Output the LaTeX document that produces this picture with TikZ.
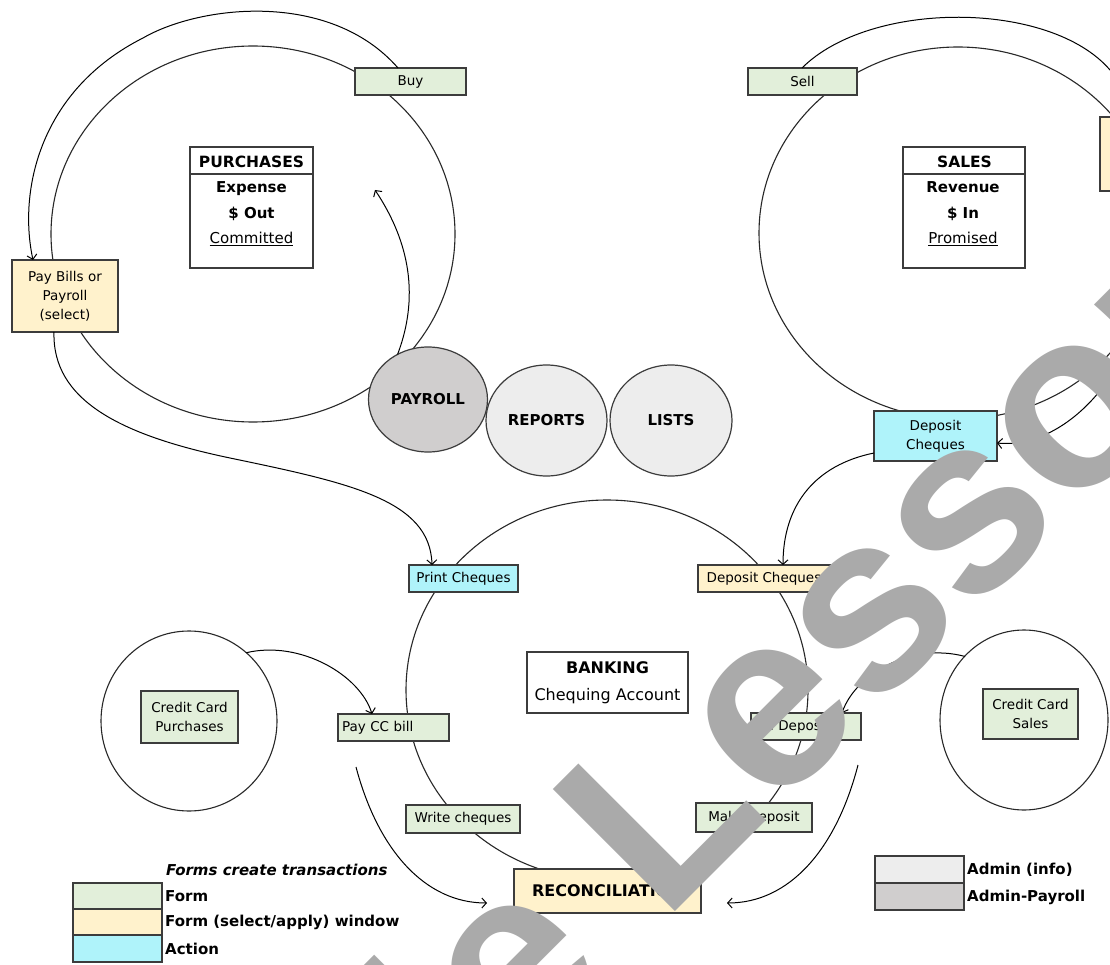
\documentclass[tikz,border=0pt]{standalone}
\usepackage{fontspec}
\setmainfont{DejaVu Sans}
\newfontfamily\wmfont{Liberation Sans}
\usetikzlibrary{shapes.geometric,arrows.meta}
\definecolor{formgreen}{RGB}{226,239,218}
\definecolor{selyellow}{RGB}{255,242,204}
\definecolor{actblue}{RGB}{175,243,250}
\definecolor{admlight}{RGB}{237,237,237}
\definecolor{admdark}{RGB}{208,206,206}
\definecolor{boxline}{RGB}{60,60,60}
\definecolor{cycline}{RGB}{40,40,40}
\definecolor{wmgrey}{RGB}{170,170,170}
\begin{document}
\begin{tikzpicture}[x=1pt,y=-1pt,
  wh/.style 2 args={minimum width=#1pt,minimum height=#2pt},
  cyc/.style={ellipse,draw=cycline,line width=1.1pt,inner sep=0pt,outer sep=0pt},
  box/.style={draw=boxline,line width=1.2pt,inner sep=0pt,outer sep=0pt,align=center,font={\fontsize{13.5}{19}\selectfont}},
  form/.style={box,fill=formgreen},
  sel/.style={box,fill=selyellow},
  act/.style={box,fill=actblue},
  info/.style={box,fill=white},
  hdr/.style={inner sep=0pt,font={\fontsize{15.5}{20}\selectfont\bfseries}},
  body/.style={inner sep=0pt,align=center,font={\fontsize{15}{25.5}\selectfont}},
  adm/.style={ellipse,draw=boxline,line width=1.2pt,inner sep=0pt,outer sep=0pt,font={\fontsize{15}{18}\selectfont\bfseries}},
  conn/.style={draw=black,line width=1pt},
  arr/.style={-{Straight Barb[length=4.5pt,width=10pt]}},
  legtxt/.style={anchor=west,inner sep=0pt,font={\fontsize{15}{18}\selectfont\bfseries}},
  swatch/.style={draw=boxline,line width=1.2pt,inner sep=0pt,outer sep=0pt},
  wm/.style={inner sep=0pt,text=wmgrey,font={\wmfont\bfseries\fontsize{251}{251}\selectfont}}
]
\useasboundingbox (0,0) rectangle (1110,965);
\clip (0,0) rectangle (1110,965);
\fill[white] (0,0) rectangle (1110,965);

% cycles
\node[cyc, wh={404}{376}] (purchcyc) at (253,234) {};
\node[cyc, wh={398}{372}] (salescyc) at (958,233) {};
\node[cyc, wh={402}{380}] (bankcyc) at (607,690) {};
\node[cyc, wh={176}{180}] (ccpcyc) at (189,721) {};
\node[cyc, wh={168}{180}] (ccscyc) at (1024,720) {};

% purchases
\node[form, wh={111}{27}] (buy) at (410.5,81.5) {Buy};
\node[sel, wh={106}{72}] (paybills) at (65,296) {Pay Bills or\\Payroll\\(select)};
\node[info, wh={123}{121}] (purch) at (251.5,207.5) {};
\draw[draw=boxline,line width=1.2pt] ([yshift=-27pt]purch.north west) -- ([yshift=-27pt]purch.north east);
\node[hdr] (purchT) at (251.5,162) {PURCHASES};
\node[body] (purchB) at (251.5,214) {\textbf{Expense}\\\textbf{\$ Out}\\\underline{Committed}};

% sales
\node[form, wh={109}{27}] (sell) at (802.5,81.5) {Sell};
\node[sel, wh={106}{74}] (recvpay) at (1153,154) {};
\node[info, wh={122}{121}] (sales) at (964,207.5) {};
\draw[draw=boxline,line width=1.2pt] ([yshift=-27pt]sales.north west) -- ([yshift=-27pt]sales.north east);
\node[hdr] (salesT) at (964.5,162) {SALES};
\node[body] (salesB) at (963,214) {\textbf{Revenue}\\\textbf{\$ In}\\\underline{Promised}};
\node[act, wh={123}{50}] (depchqact) at (935.5,436) {Deposit\\Cheques};

% admin
\node[adm, fill=admdark, wh={119}{105}] (payroll) at (428,399.5) {PAYROLL};
\node[adm, fill=admlight, wh={121}{111}] (reports) at (546.5,420.5) {REPORTS};
\node[adm, fill=admlight, wh={122}{111}] (lists) at (671,420.5) {LISTS};

% banking
\node[act, wh={109}{27}] (printchq) at (463.5,578.5) {Print Cheques};
\node[sel, wh={132}{27}] (depchqform) at (764,578.5) {Deposit Cheques};
\node[info, wh={161}{61}, font={\fontsize{16}{27}\selectfont}] (banking) at (607.5,682.5) {\textbf{BANKING}\\Chequing Account};
\node[form, wh={111}{27}, text width=103pt, align=left, inner xsep=4pt] (paycc) at (393.5,727.5) {Pay CC bill};
\node[form, wh={110}{27}, text width=102pt, align=left, inner xsep=4pt] (ccdep) at (806,726.5) {CC Deposit};
\node[form, wh={114}{28}] (writechq) at (463,819) {Write cheques};
\node[form, wh={116}{29}] (makedep) at (754,817.5) {Make Deposit};
\node[sel, wh={187}{44}, font={\fontsize{16}{20}\selectfont\bfseries}] (recon) at (607.5,891) {RECONCILIATION};
\node[form, wh={97}{52}] (ccpbox) at (189.5,717) {Credit Card\\Purchases};
\node[form, wh={95}{50}] (ccsbox) at (1030.5,714) {Credit Card\\Sales};

% connectors
\draw[conn,arr] ([xshift=-12.5pt]buy.north) .. controls (330,-10) and (200,5) .. (143,38) .. controls (40,90) and (18,190) .. ([xshift=-32pt]paybills.north);
\draw[conn,arr] ([xshift=-11pt]paybills.south) .. controls (52,400) and (120,435) .. (230,458) .. controls (350,483) and (430,500) .. ([xshift=-31.5pt]printchq.north);
\coordinate (payrolltip) at (375,190);
\draw[conn,arr] (payroll.124) .. controls (422,290) and (405,235) .. (payrolltip);
\draw[conn,arr] ([xshift=-0.5pt]sell.north) .. controls (870,0) and (1050,0) .. (1110,70) .. controls (1135,95) and (1145,105) .. ([xshift=-8pt]recvpay.north);
\draw[conn,arr] ([xshift=7pt]recvpay.south) .. controls (1160,360) and (1070,450) .. ([yshift=-7pt]depchqact.east);
\draw[conn,arr] ([yshift=-17pt]depchqact.west) .. controls (815,465) and (783,505) .. ([xshift=19pt]depchqform.north);
\draw[conn,arr] (ccpcyc.50) .. controls (300,640) and (360,675) .. ([xshift=-21.5pt]paycc.north);
\coordinate (payccout) at (356,767);
\draw[conn,arr] (payccout) .. controls (378,850) and (425,903) .. ([xshift=-27pt,yshift=-12pt]recon.west);
\draw[conn,arr] (ccscyc.133) .. controls (910,642) and (855,675) .. ([xshift=36pt]ccdep.north);
\coordinate (ccdepout) at (858,765);
\draw[conn,arr] (ccdepout) .. controls (836,850) and (789,903) .. ([xshift=26pt,yshift=-12pt]recon.east);

% legend left
\node[anchor=west,inner sep=0pt,font={\fontsize{15}{18}\selectfont\bfseries\itshape}] (legT) at (166,870) {Forms create transactions};
\node[swatch, fill=formgreen, wh={89}{26}] (legform) at (117.5,896) {};
\node[swatch, fill=selyellow, wh={89}{26}] (legsel) at (117.5,922) {};
\node[swatch, fill=actblue, wh={89}{27}] (legact) at (117.5,948.5) {};
\node[legtxt] (legformT) at (165,896) {Form};
\node[legtxt] (legselT) at (165,922) {Form (select/apply) window};
\node[legtxt] (legactT) at (165,948.5) {Action};

% legend right
\node[swatch, fill=admlight, wh={89}{27}] (legadm) at (919.5,869.5) {};
\node[swatch, fill=admdark, wh={89}{27}] (legpay) at (919.5,896.5) {};
\node[legtxt] (legadmT) at (967,870) {Admin (info)};
\node[legtxt] (legpayT) at (967,897) {Admin-Payroll};

% watermark
\node[wm, rotate=45, anchor=base west] (wmark) at (664,923) {\llap{Sample }Lessons};
\end{tikzpicture}
\end{document}
